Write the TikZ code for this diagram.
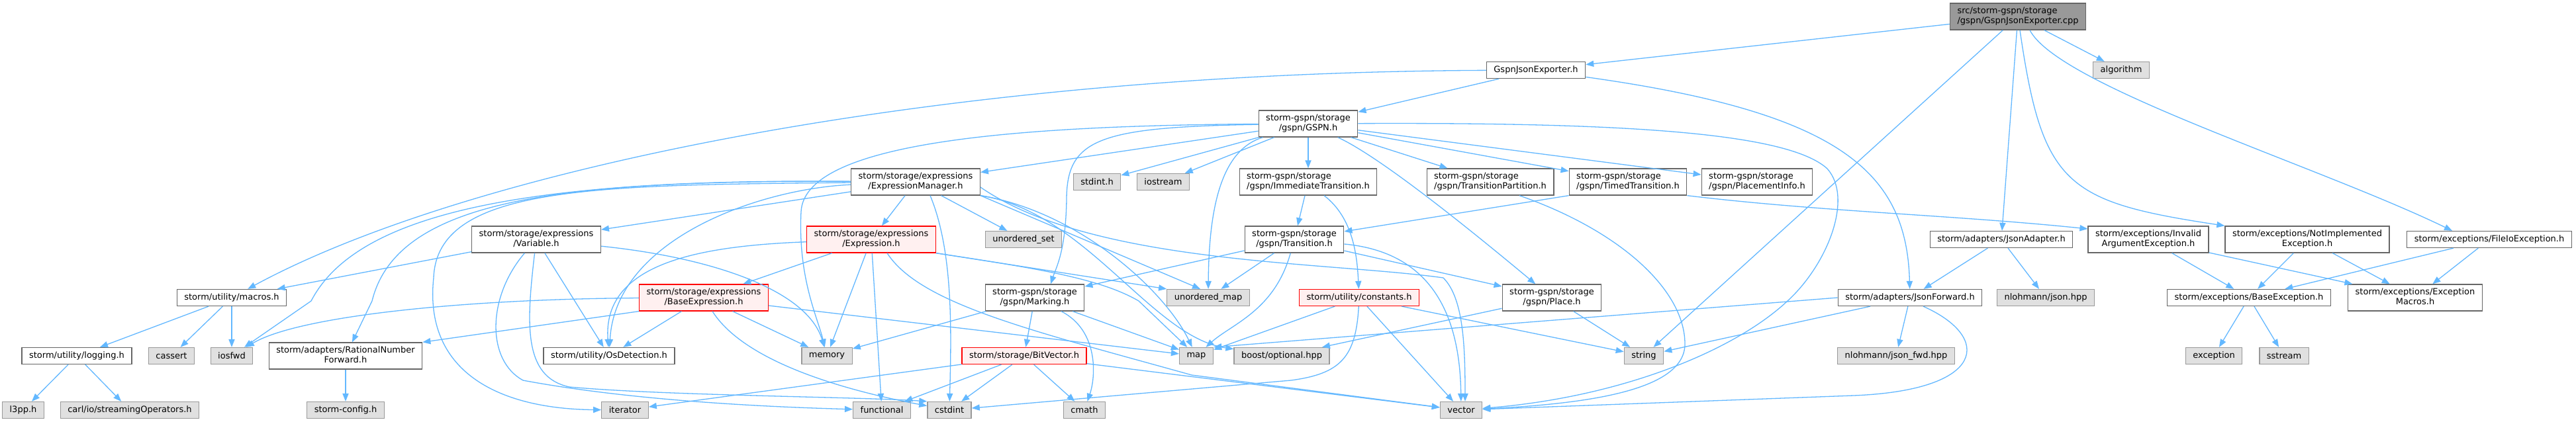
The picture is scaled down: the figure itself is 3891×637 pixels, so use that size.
\documentclass[tikz,border=0pt]{standalone}
\usepackage{fontspec}
\setmainfont{DejaVu Sans}
\usepackage{tikz}
\usetikzlibrary{arrows.meta}

\definecolor{edgeblue}{HTML}{63B8FF}
\definecolor{boxline}{HTML}{666666}
\definecolor{sysline}{HTML}{999999}
\definecolor{sysfill}{HTML}{E0E0E0}
\definecolor{warnline}{HTML}{FF0000}
\definecolor{warnfill}{HTML}{FFF0F0}
\definecolor{mainfill}{HTML}{999999}

\newcommand{\graphfont}{\fontsize{6.5pt}{7.5pt}\selectfont}
\newcommand{\twoline}[2]{\begin{tabular}{@{}l@{}}#1\\\multicolumn{1}{@{}c@{}}{#2}\end{tabular}}

\begin{document}
\begin{tikzpicture}[x=0.5pt, y=-0.5pt, >={Triangle[length=6pt, width=4.6pt]},
    every node/.style={font=\graphfont, inner xsep=5.5pt, inner ysep=2.5pt, minimum height=12.5pt, line width=0.65pt},
    filebox/.style={draw=boxline, fill=white},
    sysbox/.style={draw=sysline, fill=sysfill},
    warnbox/.style={draw=warnline, fill=warnfill},
    mainbox/.style={draw=boxline, fill=mainfill},
    edge/.style={->, draw=edgeblue, line width=0.65pt}]
    \fill [white] (0,0) rectangle (3891,637);

    % top: the file and its direct includes
    \node [mainbox] (main) at (3048,25) {\twoline{src/storm-gspn/storage}{/gspn/GspnJsonExporter.cpp}};
    \node [filebox] (gje) at (2320,106) {GspnJsonExporter.h};
    \node [sysbox] (algorithm) at (3204,106) {algorithm};
    \node [filebox] (gspn) at (1976,187) {\twoline{storm-gspn/storage}{/gspn/GSPN.h}};

    % gspn row
    \node [filebox] (exprmgr) at (1383,275) {\twoline{storm/storage/expressions}{/ExpressionManager.h}};
    \node [sysbox] (stdint) at (1657,275) {stdint.h};
    \node [sysbox] (iostream) at (1757,275) {iostream};
    \node [filebox] (immtrans) at (1976,275) {\twoline{storm-gspn/storage}{/gspn/ImmediateTransition.h}};
    \node [filebox] (transpart) at (2251,275) {\twoline{storm-gspn/storage}{/gspn/TransitionPartition.h}};
    \node [filebox] (timedtrans) at (2459,275) {\twoline{storm-gspn/storage}{/gspn/TimedTransition.h}};
    \node [filebox] (placeinfo) at (2654,275) {\twoline{storm-gspn/storage}{/gspn/PlacementInfo.h}};

    % expressions, transitions, exceptions
    \node [filebox] (variable) at (810,362) {\twoline{storm/storage/expressions}{/Variable.h}};
    \node [warnbox] (expression) at (1316,362) {\twoline{storm/storage/expressions}{/Expression.h}};
    \node [sysbox] (unordset) at (1546,362) {unordered\_set};
    \node [filebox] (transition) at (1955,362) {\twoline{storm-gspn/storage}{/gspn/Transition.h}};
    \node [filebox] (jsonadapter) at (3023,362) {storm/adapters/JsonAdapter.h};
    \node [filebox] (invalidarg) at (3245,362) {\twoline{storm/exceptions/Invalid}{ArgumentException.h}};
    \node [filebox] (notimpl) at (3485,362) {\twoline{storm/exceptions/NotImplemented}{Exception.h}};
    \node [filebox] (fileio) at (3760,362) {storm/exceptions/FileIoException.h};

    \node [filebox] (macros) at (350,450) {storm/utility/macros.h};
    \node [warnbox] (baseexpr) at (1063,450) {\twoline{storm/storage/expressions}{/BaseExpression.h}};
    \node [filebox] (marking) at (1563,450) {\twoline{storm-gspn/storage}{/gspn/Marking.h}};
    \node [sysbox] (unordmap) at (1825,450) {unordered\_map};
    \node [warnbox] (constants) at (2053,450) {storm/utility/constants.h};
    \node [filebox] (place) at (2344,450) {\twoline{storm-gspn/storage}{/gspn/Place.h}};
    \node [filebox] (jsonfwd) at (2885,450) {storm/adapters/JsonForward.h};
    \node [sysbox] (jsonhpp) at (3090,450) {nlohmann/json.hpp};
    \node [filebox] (baseexc) at (3397,450) {storm/exceptions/BaseException.h};
    \node [filebox] (excmacros) at (3648,450) {\twoline{storm/exceptions/Exception}{Macros.h}};

    \node [filebox] (logging) at (116,538) {storm/utility/logging.h};
    \node [sysbox] (cassert) at (259,538) {cassert};
    \node [sysbox] (iosfwd) at (350,538) {iosfwd};
    \node [filebox] (ratfwd) at (522,538) {\twoline{storm/adapters/RationalNumber}{Forward.h}};
    \node [filebox] (osdet) at (920,538) {storm/utility/OsDetection.h};
    \node [sysbox] (memory) at (1249,538) {memory};
    \node [warnbox] (bitvector) at (1547,538) {storm/storage/BitVector.h};
    \node [sysbox] (map) at (1807,538) {map};
    \node [sysbox] (boostopt) at (1936,538) {boost/optional.hpp};
    \node [sysbox] (string) at (2483,538) {string};
    \node [sysbox] (jsonfwdhpp) at (2864,538) {nlohmann/json\_fwd.hpp};
    \node [sysbox] (exception) at (3344,538) {exception};
    \node [sysbox] (sstream) at (3450,538) {sstream};

    % bottom row
    \node [sysbox] (l3pp) at (35,620) {l3pp.h};
    \node [sysbox] (carl) at (196,620) {carl/io/streamingOperators.h};
    \node [sysbox] (stormconfig) at (522,620) {storm-config.h};
    \node [sysbox] (iterator) at (944,620) {iterator};
    \node [sysbox] (functional) at (1332,620) {functional};
    \node [sysbox] (cstdint) at (1434,620) {cstdint};
    \node [sysbox] (cmath) at (1638,620) {cmath};
    \node [sysbox] (vector) at (2207,620) {vector};

    % straight includes
    \foreach \src/\dst in {main/gje, main/algorithm, main/string, main/jsonadapter, gje/gspn,
        gspn/exprmgr, gspn/stdint, gspn/iostream, gspn/immtrans, gspn/transpart, gspn/timedtrans, gspn/placeinfo,
        exprmgr/expression, exprmgr/variable, exprmgr/unordset, variable/macros, variable/osdet,
        expression/baseexpr, expression/memory, expression/functional, baseexpr/osdet, baseexpr/memory,
        immtrans/transition, transition/marking, transition/unordmap, transition/place,
        marking/memory, marking/bitvector, marking/map,
        bitvector/iterator, bitvector/functional, bitvector/cstdint, bitvector/cmath, bitvector/vector,
        constants/map, constants/vector, constants/string, place/boostopt, place/string,
        jsonfwd/string, jsonfwd/jsonfwdhpp, jsonadapter/jsonfwd, jsonadapter/jsonhpp,
        invalidarg/baseexc, invalidarg/excmacros, notimpl/baseexc, notimpl/excmacros,
        fileio/baseexc, fileio/excmacros, baseexc/exception, baseexc/sstream,
        macros/logging, macros/cassert, macros/iosfwd, logging/l3pp, logging/carl, ratfwd/stormconfig}
        \draw [edge] (\src) -- (\dst);

    % curved includes
    \draw [edge] (main) .. controls (3085,280) and (3120,305) .. (notimpl.north west);
    \draw [edge] ([xshift=9pt]main.south) .. controls (3110,130) and (3500,250) .. ([xshift=-28pt]fileio.north);
    \draw [edge] (gje) .. controls (1400,110) and (700,260) .. (macros);
    \draw [edge] (gje) .. controls (2780,170) and (2880,260) .. (jsonfwd);

    \draw [edge] (gspn) .. controls (1500,190) and (1215,220) .. (1210,320) .. controls (1205,420) and (1235,480) .. (memory);
    \draw [edge] (gspn) .. controls (1660,192) and (1612,210) .. (1611,300) .. controls (1610,380) and (1595,405) .. ([xshift=12pt]marking.north);
    \draw [edge] (gspn) .. controls (1850,225) and (1826,300) .. (unordmap);
    \draw [edge] (gspn) .. controls (2080,235) and (2200,330) .. (place);
    \draw [edge] (gspn) .. controls (2450,185) and (2700,200) .. (2760,255) .. controls (2800,300) and (2760,400) .. (2700,455) .. controls (2620,530) and (2450,600) .. (vector);

    \draw [edge] (exprmgr) .. controls (800,270) and (540,320) .. (470,455) -- (iosfwd);
    \draw [edge] (exprmgr) .. controls (850,272) and (600,300) .. (562,455) -- (ratfwd);
    \draw [edge] (exprmgr) .. controls (900,280) and (660,280) .. (655,420) .. controls (640,560) and (750,618) .. (iterator);
    \draw [edge] (exprmgr) .. controls (1150,285) and (930,360) .. (osdet);
    \draw [edge] ([xshift=11pt]exprmgr.south) .. controls (1440,380) and (1437,500) .. (cstdint);
    \draw [edge] (exprmgr.south east) -- ([xshift=-6pt]unordmap.north);
    \draw [edge] (exprmgr.south east) .. controls (1630,320) and (1760,440) .. (map);
    \draw [edge] (exprmgr.south east) .. controls (1640,320) and (1740,510) .. (boostopt);
    \draw [edge] ([yshift=-4pt]exprmgr.east) .. controls (1650,400) and (2000,395) .. (2180,420) .. controls (2210,450) and (2213,520) .. ([xshift=3pt]vector.north);

    \draw [edge] (variable) .. controls (1080,390) and (1220,440) .. (memory);
    \draw [edge] (variable) .. controls (735,450) and (735,545) .. (790,575) .. controls (950,605) and (1150,615) .. (functional);
    \draw [edge] (variable) .. controls (795,490) and (790,570) .. (860,585) .. controls (1000,598) and (1300,600) .. (cstdint.north west);

    \draw [edge] (expression) .. controls (1050,372) and (910,400) .. (osdet);
    \draw [edge] (expression.south east) -- (unordmap.north west);
    \draw [edge] (expression.south east) .. controls (1560,405) and (1660,420) .. (1720,455) -- (map);
    \draw [edge] ([xshift=12pt]expression.south) .. controls (1390,460) and (1560,500) .. (1800,567) -- (vector);

    \draw [edge] (baseexpr) .. controls (700,452) and (450,478) .. (iosfwd);
    \draw [edge] (baseexpr.south west) -- (ratfwd.north east);
    \draw [edge] (baseexpr) .. controls (1120,540) and (1250,585) .. (cstdint);
    \draw [edge] ([yshift=-6pt]baseexpr.east) -- (map);

    \draw [edge] ([xshift=20pt]marking.south) .. controls (1660,500) and (1655,570) .. (cmath);
    \draw [edge] (constants) .. controls (2048,540) and (2025,565) .. (1950,575) -- (cstdint);
    \draw [edge] (transition) .. controls (1925,470) and (1860,490) .. (map);
    \draw [edge] (transition) .. controls (2150,380) and (2205,460) .. (vector);
    \draw [edge] ([xshift=12pt]immtrans.south) .. controls (2045,330) and (2050,390) .. (constants);
    \draw [edge] (timedtrans.south west) -- (transition);
    \draw [edge] (timedtrans.south east) .. controls (2750,320) and (2950,325) .. ([yshift=8pt]invalidarg.west);
    \draw [edge] ([xshift=22pt]transpart.south) .. controls (2450,350) and (2545,440) .. (2545,520) .. controls (2545,590) and (2400,610) .. (vector);
    \draw [edge] (jsonfwd.west) -- (map.north east);
    \draw [edge] ([xshift=10pt]jsonfwd.south) .. controls (3010,510) and (3000,590) .. (2800,598) -- (vector);
\end{tikzpicture}
\end{document}
